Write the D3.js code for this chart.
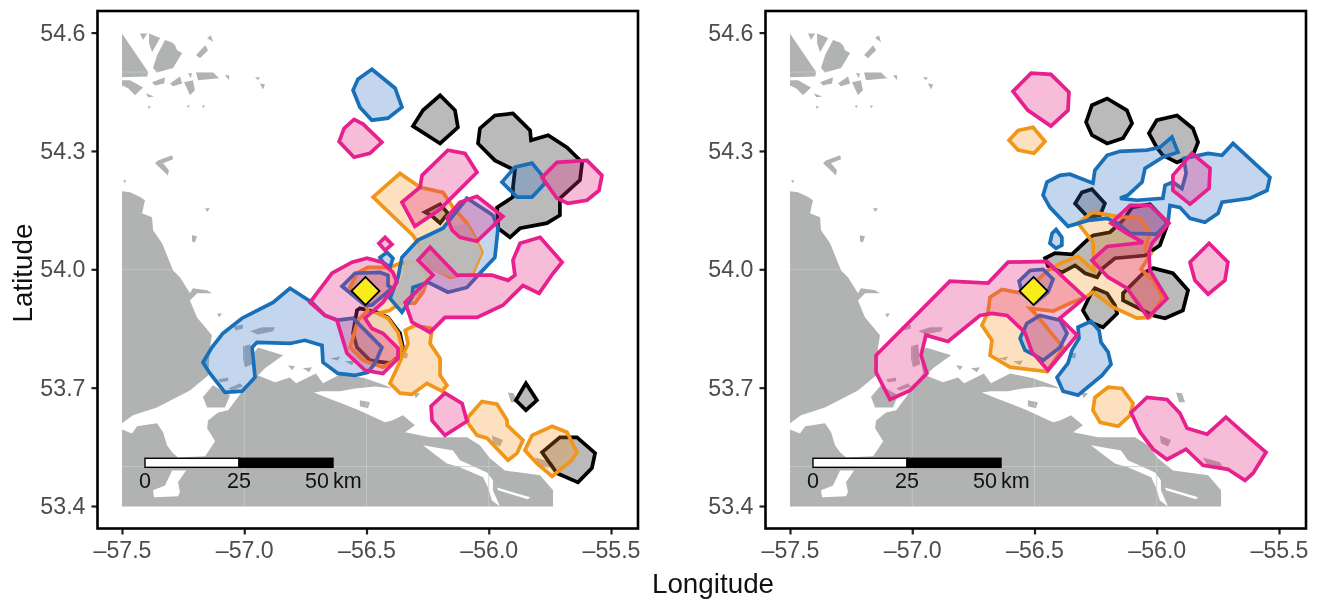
<!DOCTYPE html>
<html><head><meta charset="utf-8">
<script src="https://d3js.org/d3.v7.min.js"></script>
<style>html,body{margin:0;padding:0;background:#fff}svg{display:block;filter:blur(.4px)}text{font-family:"Liberation Sans",Arial,sans-serif}</style>
</head><body><svg id="c" width="1325" height="602"></svg>
<script>
const xTicks=[-57.5,-57,-56.5,-56,-55.5], yTicks=[53.4,53.7,54,54.3,54.6];
const gratLon=[-57,-56.5,-56], gratLat=[53.5,54,54.5];
const colony=[-56.504,53.945];
const barKm=[0,25,50], barLon=[-57.406,-56.637], barLat=[53.521,53.498];

// land, lon/lat
const landWest=[[-57.5,54.198],[-57.467,54.195],[-57.426,54.183],[-57.406,54.175],[-57.418,54.142],[-57.377,54.132],[-57.373,54.099],[-57.336,54.066],[-57.291,53.997],[-57.263,53.98],[-57.222,53.939],[-57.21,53.952],[-57.152,53.947],[-57.132,53.939],[-57.193,53.939],[-57.222,53.921],[-57.193,53.878],[-57.132,53.833],[-57.14,53.802],[-57.148,53.731],[-57.222,53.693],[-57.357,53.65],[-57.455,53.63],[-57.5,53.61]];
const landMain=[[-57.5,53.399],[-57.5,53.594],[-57.459,53.584],[-57.438,53.602],[-57.357,53.61],[-57.332,53.587],[-57.316,53.554],[-57.295,53.536],[-57.271,53.523],[-57.16,53.526],[-57.119,53.564],[-57.152,53.597],[-57.148,53.617],[-57.107,53.637],[-57.066,53.643],[-57.029,53.673],[-56.956,53.736],[-56.968,53.782],[-56.944,53.802],[-56.841,53.782],[-56.915,53.749],[-56.944,53.731],[-56.874,53.714],[-56.813,53.726],[-56.788,53.711],[-56.707,53.736],[-56.678,53.711],[-56.6,53.736],[-56.506,53.724],[-56.424,53.706],[-56.396,53.698],[-56.465,53.703],[-56.547,53.698],[-56.608,53.691],[-56.682,53.691],[-56.715,53.688],[-56.657,53.673],[-56.6,53.66],[-56.531,53.643],[-56.424,53.612],[-56.396,53.617],[-56.351,53.63],[-56.302,53.605],[-56.342,53.587],[-56.24,53.574],[-56.089,53.574],[-56.036,53.554],[-55.995,53.521],[-55.934,53.49],[-55.872,53.485],[-55.79,53.478],[-55.737,53.44],[-55.737,53.399]];
const landIslets=[
[[-57.169,53.676],[-57.128,53.706],[-57.058,53.681],[-57.079,53.65],[-57.152,53.65]],
[[-57.5,54.598],[-57.393,54.5],[-57.397,54.489],[-57.5,54.487]],
[[-57.373,54.51],[-57.357,54.542],[-57.324,54.581],[-57.295,54.575],[-57.283,54.568],[-57.275,54.555],[-57.254,54.548],[-57.291,54.51],[-57.357,54.499]],
[[-57.426,54.598],[-57.397,54.598],[-57.414,54.581]],
[[-57.389,54.598],[-57.344,54.586],[-57.377,54.55],[-57.389,54.573]],
[[-57.197,54.499],[-57.127,54.499],[-57.103,54.484],[-57.189,54.479]],
[[-57.377,54.474],[-57.324,54.487],[-57.328,54.471],[-57.365,54.466]],
[[-57.304,54.471],[-57.263,54.489],[-57.254,54.471],[-57.291,54.464]],
[[-57.246,54.474],[-57.21,54.479],[-57.202,54.454],[-57.222,54.441]],
[[-57.5,54.479],[-57.467,54.479],[-57.414,54.461],[-57.447,54.441],[-57.475,54.459],[-57.5,54.466]],
[[-57.402,54.446],[-57.369,54.438],[-57.393,54.436]],
[[-57.16,54.568],[-57.148,54.555],[-57.181,54.535],[-57.197,54.543]],
[[-57.152,54.586],[-57.136,54.593],[-57.128,54.576]],
[[-57.079,54.492],[-57.062,54.492],[-57.062,54.479]],
[[-56.956,54.487],[-56.936,54.487],[-56.944,54.479]],
[[-56.936,54.471],[-56.915,54.469],[-56.923,54.456]],
[[-57.23,54.497],[-57.214,54.497],[-57.218,54.484]],
[[-57.234,54.415],[-57.222,54.415],[-57.23,54.408]],
[[-57.173,54.415],[-57.16,54.415],[-57.168,54.408]],
[[-57.394,54.413],[-57.382,54.413],[-57.39,54.406]],
[[-57.295,54.289],[-57.353,54.276],[-57.365,54.269],[-57.312,54.238],[-57.308,54.251],[-57.332,54.269],[-57.291,54.279]],
[[-57.16,54.155],[-57.14,54.155],[-57.152,54.145]],
[[-57.214,54.086],[-57.193,54.084],[-57.202,54.068],[-57.214,54.071]],
[[-57.496,54.226],[-57.483,54.226],[-57.488,54.218]],
[[-56.976,53.843],[-56.928,53.853],[-56.874,53.853],[-56.882,53.843],[-56.944,53.835]],
[[-57.046,53.855],[-57.005,53.86],[-57.005,53.85],[-57.034,53.845]],
[[-57.005,53.805],[-56.976,53.81],[-56.968,53.759],[-56.997,53.752],[-57.005,53.774]],
[[-57.107,53.721],[-57.066,53.726],[-57.066,53.716],[-57.099,53.714]],
[[-57.066,53.698],[-57.017,53.711],[-57.005,53.703],[-57.05,53.693]],
[[-57.111,53.888],[-57.091,53.888],[-57.103,53.878]],
[[-55.987,53.579],[-55.942,53.567],[-55.954,53.551],[-55.983,53.559]],
[[-55.811,53.523],[-55.741,53.511],[-55.729,53.498],[-55.79,53.498]],
[[-55.921,53.688],[-55.897,53.686],[-55.884,53.663],[-55.909,53.663]],
[[-56.351,53.787],[-56.33,53.787],[-56.334,53.774],[-56.351,53.777]],
[[-56.649,53.774],[-56.608,53.779],[-56.617,53.769]],
[[-56.588,53.767],[-56.547,53.769],[-56.559,53.757]],
[[-56.527,53.668],[-56.486,53.663],[-56.494,53.648],[-56.527,53.653]],
[[-56.821,53.757],[-56.793,53.754],[-56.805,53.744]],
[[-56.76,53.749],[-56.723,53.752],[-56.735,53.739]],
[[-56.31,53.688],[-56.281,53.686],[-56.298,53.673]]
];
const waterInlets=[
[[-57.295,53.49],[-57.238,53.49],[-57.271,53.46],[-57.263,53.435],[-57.271,53.425],[-57.369,53.422],[-57.373,53.44],[-57.324,53.452]],
[[-56.269,53.554],[-56.146,53.541],[-56.118,53.516],[-56.007,53.485],[-55.983,53.465],[-55.983,53.44],[-55.954,53.399],[-55.987,53.414],[-56.003,53.447],[-56.023,53.473],[-56.118,53.498],[-56.171,53.508],[-56.232,53.536]],
[[-55.966,53.447],[-55.831,53.422],[-55.84,53.417],[-55.962,53.44]]
];

// left panel home ranges
const leftBlack=[
[[-56.199,54.441],[-56.138,54.403],[-56.126,54.36],[-56.199,54.319],[-56.31,54.363],[-56.269,54.403]],
[[-56.044,54.319],[-56.036,54.357],[-55.975,54.39],[-55.901,54.395],[-55.831,54.352],[-55.827,54.327],[-55.757,54.34],[-55.68,54.309],[-55.618,54.271],[-55.627,54.226],[-55.709,54.18],[-55.709,54.137],[-55.762,54.117],[-55.872,54.104],[-55.913,54.081],[-55.962,54.104],[-55.966,54.157],[-55.901,54.183],[-55.901,54.208],[-55.893,54.251],[-55.975,54.276]],
[[-56.261,54.145],[-56.199,54.165],[-56.167,54.142],[-56.199,54.117],[-56.232,54.135]],
[[-55.639,53.574],[-55.565,53.534],[-55.578,53.496],[-55.635,53.46],[-55.721,53.483],[-55.782,53.536],[-55.709,53.574]],
[[-55.848,53.711],[-55.803,53.668],[-55.848,53.643],[-55.889,53.668]]
];
const leftBlackPale=[
[[-56.457,53.891],[-56.412,53.878],[-56.363,53.838],[-56.351,53.802],[-56.371,53.777],[-56.404,53.762],[-56.486,53.769],[-56.539,53.802],[-56.555,53.838],[-56.539,53.896],[-56.527,53.901]]
];
const leftLobe=[[[-56.355,53.98],[-56.342,54.03],[-56.289,54.066],[-56.187,54.104],[-56.089,54.117],[-56.056,54.081],[-56.028,54.043],[-56.064,53.992],[-56.158,53.98],[-56.24,53.997],[-56.248,53.972],[-56.269,53.947],[-56.322,53.916],[-56.355,53.896],[-56.396,53.926]]];
const leftBlue=[
[[-56.478,54.507],[-56.383,54.459],[-56.355,54.411],[-56.412,54.383],[-56.478,54.378],[-56.527,54.411],[-56.555,54.454],[-56.535,54.482]],
[[-55.946,54.221],[-55.893,54.259],[-55.823,54.269],[-55.782,54.238],[-55.77,54.218],[-55.823,54.183],[-55.884,54.183]],
[[-57.169,53.764],[-57.132,53.802],[-57.087,53.838],[-57.009,53.876],[-56.882,53.916],[-56.813,53.952],[-56.723,53.916],[-56.67,53.883],[-56.617,53.871],[-56.555,53.876],[-56.437,53.802],[-56.465,53.762],[-56.494,53.739],[-56.547,53.731],[-56.617,53.736],[-56.678,53.764],[-56.682,53.807],[-56.752,53.82],[-56.813,53.812],[-56.948,53.815],[-56.968,53.802],[-56.956,53.726],[-57.009,53.691],[-57.079,53.688],[-57.14,53.736]],
[[-56.355,54.03],[-56.371,53.98],[-56.404,53.926],[-56.355,53.891],[-56.314,53.929],[-56.31,53.954],[-56.248,53.967],[-56.167,53.942],[-56.089,53.954],[-56.036,53.99],[-55.975,54.03],[-55.962,54.104],[-55.983,54.137],[-56.089,54.18],[-56.187,54.104],[-56.289,54.074]],
[[-56.445,54.03],[-56.416,54.043],[-56.392,54.028],[-56.404,54.005],[-56.433,54.018]],
[[-56.6,53.957],[-56.547,53.99],[-56.445,53.992],[-56.412,53.985],[-56.412,53.959],[-56.396,53.952],[-56.478,53.909],[-56.506,53.909]]
];
const leftOrange=[
[[-56.473,54.183],[-56.363,54.243],[-56.281,54.208],[-56.187,54.195],[-56.146,54.157],[-56.089,54.117],[-56.056,54.081],[-56.028,54.043],[-56.064,53.992],[-56.158,53.98],[-56.24,54.005],[-56.289,54.066],[-56.31,54.086]],
[[-56.539,53.99],[-56.494,54.005],[-56.404,54.005],[-56.363,54.015],[-56.289,54.018],[-56.248,53.98],[-56.269,53.942],[-56.302,53.914],[-56.363,53.914],[-56.404,53.896],[-56.453,53.888],[-56.412,53.876],[-56.371,53.84],[-56.355,53.802],[-56.371,53.774],[-56.433,53.752],[-56.514,53.769],[-56.567,53.802],[-56.535,53.871],[-56.494,53.896],[-56.514,53.921],[-56.567,53.954]],
[[-56.342,53.845],[-56.302,53.858],[-56.232,53.85],[-56.24,53.812],[-56.199,53.774],[-56.199,53.731],[-56.171,53.706],[-56.191,53.691],[-56.253,53.711],[-56.314,53.683],[-56.363,53.686],[-56.404,53.711],[-56.351,53.782],[-56.33,53.812]],
[[-56.085,53.625],[-56.028,53.665],[-55.966,53.658],[-55.925,53.617],[-55.925,53.605],[-55.86,53.567],[-55.884,53.534],[-55.921,53.516],[-56.007,53.572],[-56.048,53.579],[-56.085,53.61]],
[[-55.852,53.541],[-55.823,53.579],[-55.741,53.602],[-55.68,53.587],[-55.639,53.536],[-55.66,53.516],[-55.741,53.475],[-55.803,53.508]]
];
const leftPink=[
[[-56.551,54.38],[-56.514,54.368],[-56.437,54.322],[-56.486,54.294],[-56.551,54.284],[-56.612,54.324],[-56.592,54.357]],
[[-56.273,54.238],[-56.167,54.302],[-56.097,54.294],[-56.048,54.246],[-56.15,54.183],[-56.199,54.152],[-56.302,54.109],[-56.355,54.17],[-56.281,54.208]],
[[-56.171,54.132],[-56.118,54.17],[-56.048,54.185],[-55.942,54.134],[-56.048,54.071],[-56.118,54.081],[-56.15,54.099]],
[[-55.782,54.233],[-55.721,54.271],[-55.598,54.276],[-55.537,54.238],[-55.549,54.2],[-55.598,54.175],[-55.676,54.167],[-55.721,54.18]],
[[-56.342,53.916],[-56.228,53.985],[-56.289,54.023],[-56.24,54.056],[-56.13,53.985],[-55.987,53.985],[-55.921,53.972],[-55.893,53.985],[-55.901,54.023],[-55.872,54.066],[-55.79,54.081],[-55.7,54.018],[-55.737,53.99],[-55.794,53.939],[-55.86,53.959],[-55.942,53.909],[-56.048,53.878],[-56.179,53.878],[-56.24,53.84],[-56.314,53.866]],
[[-56.424,54.081],[-56.396,54.063],[-56.424,54.048],[-56.449,54.066]],
[[-56.731,53.916],[-56.641,53.99],[-56.559,54.018],[-56.498,54.028],[-56.437,54.018],[-56.392,53.992],[-56.375,53.967],[-56.433,53.916],[-56.506,53.876],[-56.478,53.85],[-56.433,53.838],[-56.371,53.8],[-56.371,53.774],[-56.433,53.736],[-56.506,53.744],[-56.58,53.787],[-56.621,53.871],[-56.67,53.883]],
[[-56.179,53.686],[-56.109,53.66],[-56.089,53.615],[-56.179,53.579],[-56.232,53.617],[-56.236,53.653]]
];

// right panel home ranges
const rightBlack=[
[[-56.203,54.433],[-56.122,54.403],[-56.101,54.37],[-56.138,54.332],[-56.203,54.319],[-56.265,54.34],[-56.289,54.373],[-56.265,54.416]],
[[-55.917,54.39],[-55.852,54.357],[-55.831,54.322],[-55.852,54.289],[-55.917,54.271],[-55.975,54.289],[-56,54.309],[-56.032,54.345],[-56,54.378]],
[[-56.265,54.203],[-56.212,54.167],[-56.232,54.137],[-56.281,54.132],[-56.334,54.167],[-56.306,54.195]],
[[-56.457,54.028],[-56.416,54.041],[-56.347,54.038],[-56.285,54.074],[-56.261,54.086],[-56.191,54.094],[-56.138,54.124],[-56.101,54.157],[-56.028,54.165],[-55.954,54.117],[-55.987,54.061],[-56.048,54.035],[-56.171,54.028],[-56.22,54.003],[-56.244,53.98],[-56.293,53.99],[-56.334,54.01],[-56.388,53.992],[-56.445,54.008]],
[[-56.253,53.952],[-56.203,53.939],[-56.171,53.909],[-56.162,53.888],[-56.22,53.853],[-56.273,53.866],[-56.302,53.896],[-56.273,53.934]],
[[-56.015,54.003],[-55.934,53.99],[-55.872,53.947],[-55.893,53.896],[-55.966,53.876],[-56.015,53.883],[-56.138,53.921],[-56.138,53.939],[-56.056,53.99]]
];
const rightBlackPale=[];
const rightLobe=[];
const rightBlue=[
[[-56.465,54.188],[-56.449,54.221],[-56.396,54.238],[-56.355,54.241],[-56.261,54.218],[-56.253,54.251],[-56.203,54.289],[-56.15,54.299],[-56.04,54.302],[-55.987,54.309],[-55.938,54.335],[-55.913,54.297],[-55.975,54.284],[-56.048,54.256],[-56.06,54.221],[-56.118,54.188],[-56.15,54.18],[-56.081,54.175],[-55.975,54.18],[-55.966,54.213],[-55.934,54.221],[-55.897,54.205],[-55.88,54.243],[-55.889,54.281],[-55.79,54.294],[-55.733,54.289],[-55.688,54.319],[-55.537,54.233],[-55.549,54.2],[-55.618,54.18],[-55.733,54.17],[-55.749,54.142],[-55.803,54.119],[-55.864,54.129],[-55.905,54.157],[-55.946,54.162],[-55.954,54.119],[-56,54.089],[-56.109,54.091],[-56.162,54.117],[-56.203,54.129],[-56.281,54.124],[-56.363,54.109],[-56.437,54.157]],
[[-56.412,54.101],[-56.388,54.081],[-56.388,54.061],[-56.412,54.053],[-56.437,54.066],[-56.428,54.091]],
[[-56.322,53.853],[-56.269,53.868],[-56.236,53.845],[-56.228,53.815],[-56.199,53.79],[-56.187,53.759],[-56.224,53.731],[-56.322,53.681],[-56.383,53.691],[-56.408,53.726],[-56.363,53.762],[-56.347,53.795],[-56.318,53.825]],
[[-56.531,53.863],[-56.478,53.883],[-56.396,53.871],[-56.367,53.838],[-56.396,53.802],[-56.465,53.769],[-56.498,53.782],[-56.539,53.795],[-56.559,53.825]],
[[-56.563,53.97],[-56.518,53.997],[-56.465,54],[-56.424,53.975],[-56.445,53.942],[-56.498,53.914],[-56.551,53.939]]
];
const rightOrange=[
[[-56.604,54.327],[-56.567,54.352],[-56.506,54.36],[-56.457,54.324],[-56.502,54.294],[-56.567,54.302]],
[[-56.547,53.939],[-56.445,53.997],[-56.396,54.015],[-56.322,54.033],[-56.257,53.997],[-56.261,54.068],[-56.322,54.117],[-56.261,54.145],[-56.162,54.134],[-56.068,54.129],[-56.028,54.094],[-56.048,54.048],[-56.023,54.041],[-56.064,54],[-56.015,53.972],[-55.975,53.929],[-56.028,53.878],[-56.081,53.876],[-56.179,53.904],[-56.261,53.942],[-56.293,53.929],[-56.355,53.914],[-56.424,53.894],[-56.518,53.901],[-56.49,53.883],[-56.383,53.802],[-56.449,53.741],[-56.6,53.752],[-56.682,53.782],[-56.674,53.82],[-56.715,53.858],[-56.69,53.891],[-56.682,53.929],[-56.633,53.949]],
[[-56.253,53.675],[-56.199,53.701],[-56.142,53.698],[-56.097,53.66],[-56.109,53.63],[-56.158,53.602],[-56.232,53.612],[-56.261,53.643]]
];
const rightPink=[
[[-56.588,54.451],[-56.514,54.497],[-56.433,54.494],[-56.359,54.449],[-56.363,54.403],[-56.433,54.363],[-56.527,54.403]],
[[-55.934,54.238],[-55.856,54.294],[-55.782,54.256],[-55.786,54.205],[-55.864,54.165],[-55.934,54.2]],
[[-55.864,54.018],[-55.786,54.066],[-55.709,54.018],[-55.721,53.972],[-55.79,53.937],[-55.844,53.972]],
[[-56.187,54.117],[-56.109,54.162],[-56.028,54.162],[-55.95,54.117],[-56.019,54.066],[-56.032,54.043],[-56.028,53.997],[-55.958,53.926],[-56.036,53.878],[-56.122,53.952],[-56.199,53.98],[-56.265,54.023],[-56.203,54.058],[-56.056,54.068],[-56.122,54.091]],
[[-57.148,53.782],[-57.148,53.739],[-57.091,53.67],[-57.009,53.693],[-56.94,53.736],[-56.964,53.782],[-56.944,53.833],[-56.854,53.817],[-56.723,53.883],[-56.674,53.888],[-56.612,53.883],[-56.539,53.84],[-56.51,53.79],[-56.445,53.744],[-56.326,53.833],[-56.396,53.876],[-56.293,53.929],[-56.383,53.98],[-56.449,54.02],[-56.608,54.018],[-56.69,53.965],[-56.846,53.97],[-56.997,53.876]],
[[-56.105,53.637],[-56.04,53.675],[-55.958,53.67],[-55.905,53.635],[-55.876,53.597],[-55.794,53.582],[-55.717,53.625],[-55.639,53.582],[-55.553,53.536],[-55.606,53.483],[-55.639,53.465],[-55.709,53.493],[-55.811,53.503],[-55.88,53.544],[-55.958,53.518],[-56.015,53.544],[-56.068,53.587]]
];

const COL={land:"#b1b3b3",grat:"#c8caca",black:"#000",blackFill:"rgba(0,0,0,.27)",blackPale:"rgba(0,0,0,.07)",blue:"#1a70b8",blueFill:"rgba(40,109,194,.28)",orange:"#f0961a",orangeFill:"rgba(247,140,22,.27)",pink:"#e7208e",pinkFill:"rgba(230,32,125,.3)",lobe:"rgba(186,186,186,.88)"};
const svg=d3.select("#c");
const x0=d3.scaleLinear([-57.5,-55.5],[122,611]);
const y=d3.scaleLinear([53.4,54.6],[506,32.6]);
const panels=[
 {dx:0,black:leftBlack,pale:leftBlackPale,blue:leftBlue,orange:leftOrange,lobe:leftLobe,pink:leftPink},
 {dx:668,black:rightBlack,pale:rightBlackPale,blue:rightBlue,orange:rightOrange,lobe:rightLobe,pink:rightPink}
];
panels.forEach((p,i)=>{
 const x=d3.scaleLinear(x0.domain(),x0.range().map(v=>v+p.dx));
 const g=svg.append("g");
 const path=d3.line().x(d=>x(d[0])).y(d=>y(d[1]));
 const closed=d=>path(d)+"Z";
 const land=[landWest,landMain,...landIslets];
 const clipId="land"+i;
 g.append("clipPath").attr("id",clipId).selectAll("path").data(land).join("path").attr("d",closed);
 g.append("g").selectAll("path").data(land).join("path").attr("d",closed).attr("fill",COL.land);
 g.append("g").selectAll("path").data(waterInlets).join("path").attr("d",closed).attr("fill","#fff");
 const gr=g.append("g").attr("clip-path",`url(#${clipId})`).attr("stroke",COL.grat).attr("stroke-width",.8);
 gr.selectAll("line.a").data(gratLon).join("line").attr("class","a").attr("x1",d=>x(d)).attr("x2",d=>x(d)).attr("y1",y(53.4)).attr("y2",y(54.6));
 gr.selectAll("line.b").data(gratLat).join("line").attr("class","b").attr("y1",d=>y(d)).attr("y2",d=>y(d)).attr("x1",x(-57.5)).attr("x2",x(-55.5));
 const layer=(data,fill,stroke,w=3.7)=>g.append("g").selectAll("path").data(data).join("path").attr("d",closed).attr("fill",fill).attr("stroke",stroke).attr("stroke-width",w).attr("stroke-linejoin","miter").attr("stroke-miterlimit",3);
 layer(p.black,COL.blackFill,COL.black);
 layer(p.pale,COL.blackPale,COL.black);
 layer(p.blue,COL.blueFill,"none");
 layer(p.orange,COL.orangeFill,COL.orange);
 layer(p.lobe,COL.lobe,"none");
 layer(p.blue,"none",COL.blue);
 layer(p.pink,COL.pinkFill,COL.pink);
 g.append("path").attr("d",d3.symbol(d3.symbolSquare,392)()).attr("transform",`translate(${x(colony[0])},${y(colony[1])}) rotate(45)`).attr("fill","#f8ec1a").attr("stroke","#000").attr("stroke-width",1.8);
 // scale bar
 const km=d3.scaleLinear([0,50],barLon.map(v=>x(v)));
 const by=y(barLat[0]),bh=y(barLat[1])-by;
 g.append("g").selectAll("rect").data(d3.pairs(barKm)).join("rect").attr("x",d=>km(d[0])).attr("y",by).attr("width",d=>km(d[1])-km(d[0])).attr("height",bh).attr("fill",(d,j)=>j?"#000":"#fff").attr("stroke","#000").attr("stroke-width",1.4);
 const lab=g.append("g").attr("font-size",21.5).attr("fill","#111");
 lab.selectAll("text").data(barKm).join("text").attr("x",d=>km(d)+(d==50?-16:0)).attr("y",488).attr("text-anchor","middle").text(d=>d);
 lab.append("text").attr("x",km(50)).attr("y",488).text("km");
 // axes
 const top=11,bot=528.5,l=97.5+p.dx,r=638+p.dx;
 const ax=g.append("g").attr("transform",`translate(0,${bot})`).call(d3.axisBottom(x).tickValues(xTicks).tickSize(6).tickPadding(7).tickFormat(d=>d3.format(".1f")(d).replace("−","–")));
 const ay=g.append("g").attr("transform",`translate(${l},0)`).call(d3.axisLeft(y).tickValues(yTicks).tickSize(6).tickPadding(6).tickFormat(d3.format(".1f")));
 [ax,ay].forEach(a=>{a.select(".domain").remove();a.selectAll("line").attr("stroke","#222").attr("stroke-width",2.2);a.selectAll("text").attr("font-size",23.2).attr("fill","#4d4d4d").attr("font-family",'"Liberation Sans"');});
 g.append("rect").attr("x",l).attr("y",top).attr("width",r-l).attr("height",bot-top).attr("fill","none").attr("stroke","#000").attr("stroke-width",2.6);
});
svg.append("text").attr("x",713).attr("y",593).attr("text-anchor","middle").attr("font-size",27.8).attr("fill","#111").text("Longitude");
svg.append("text").attr("transform","translate(32,273) rotate(-90)").attr("text-anchor","middle").attr("font-size",27.8).attr("fill","#111").text("Latitude");
</script></body></html>
